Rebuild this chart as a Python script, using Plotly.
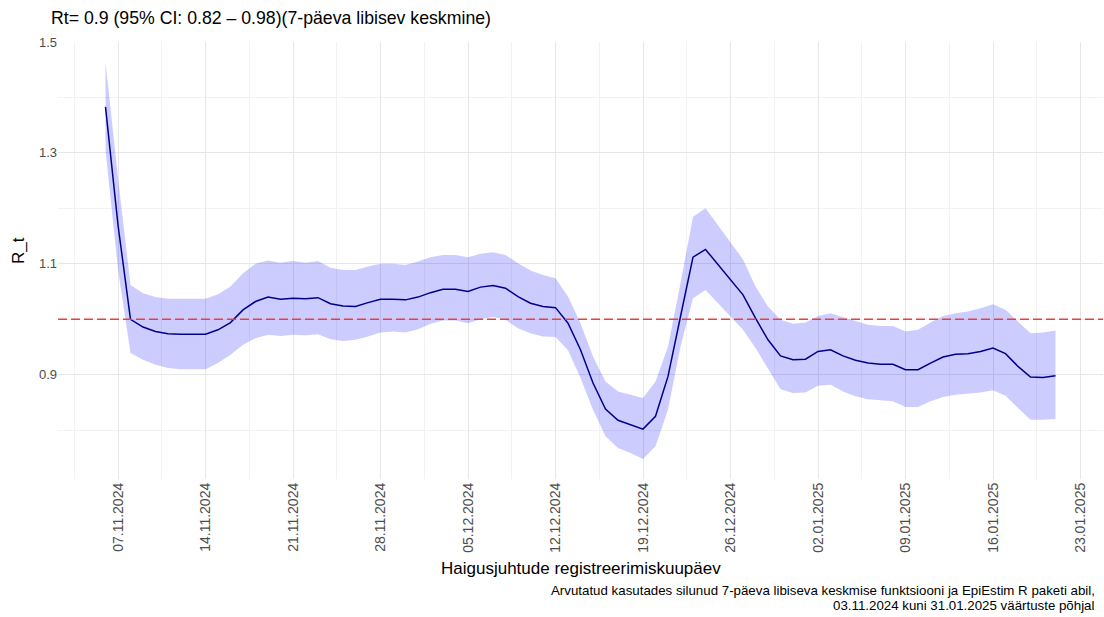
import pandas as pd
import plotly.graph_objects as go

START_DATE = "2024-11-06"
THRESHOLD = 1.0

rt_mean = [1.383, 1.170, 1.000, 0.986, 0.978, 0.974, 0.973, 0.973, 0.973, 0.981,
           0.994, 1.017, 1.032, 1.040, 1.036, 1.038, 1.037, 1.039, 1.028, 1.024,
           1.023, 1.030, 1.036, 1.036, 1.035, 1.040, 1.048, 1.054, 1.054, 1.050,
           1.058, 1.061, 1.056, 1.041, 1.029, 1.023, 1.021, 0.993, 0.945, 0.885,
           0.838, 0.818, 0.810, 0.802, 0.825, 0.897, 1.005, 1.112, 1.126, 1.099,
           1.072, 1.044, 1.002, 0.963, 0.934, 0.927, 0.928, 0.942, 0.945, 0.934,
           0.926, 0.921, 0.919, 0.919, 0.909, 0.909, 0.921, 0.932, 0.937, 0.938,
           0.942, 0.948, 0.938, 0.915, 0.896, 0.895, 0.898]

rt_upper = [1.464, 1.255, 1.062, 1.047, 1.040, 1.037, 1.037, 1.037, 1.037, 1.045,
            1.059, 1.083, 1.100, 1.106, 1.102, 1.105, 1.102, 1.105, 1.093, 1.089,
            1.089, 1.095, 1.100, 1.100, 1.098, 1.104, 1.112, 1.116, 1.116, 1.112,
            1.118, 1.121, 1.116, 1.101, 1.088, 1.080, 1.074, 1.041, 0.993, 0.933,
            0.888, 0.870, 0.864, 0.858, 0.888, 0.951, 1.065, 1.185, 1.200, 1.170,
            1.140, 1.108, 1.059, 1.023, 0.999, 0.992, 0.994, 1.006, 1.011, 1.004,
            0.996, 0.990, 0.988, 0.988, 0.978, 0.981, 0.994, 1.006, 1.011, 1.014,
            1.020, 1.027, 1.017, 0.996, 0.975, 0.976, 0.980]

rt_lower = [1.305, 1.090, 0.939, 0.927, 0.918, 0.912, 0.910, 0.910, 0.910, 0.921,
            0.936, 0.954, 0.966, 0.972, 0.970, 0.972, 0.971, 0.973, 0.964, 0.961,
            0.963, 0.969, 0.976, 0.978, 0.976, 0.982, 0.992, 0.998, 0.998, 0.993,
            1.000, 1.004, 0.999, 0.984, 0.975, 0.969, 0.968, 0.944, 0.894, 0.837,
            0.789, 0.768, 0.759, 0.748, 0.771, 0.837, 0.951, 1.038, 1.053, 1.029,
            1.005, 0.981, 0.948, 0.912, 0.874, 0.867, 0.868, 0.880, 0.882, 0.870,
            0.861, 0.856, 0.854, 0.852, 0.842, 0.842, 0.852, 0.860, 0.864, 0.866,
            0.868, 0.872, 0.862, 0.840, 0.819, 0.819, 0.820]

dates = pd.date_range(START_DATE, periods=len(rt_mean), freq="D")

TITLE = "Rt= 0.9 (95% CI: 0.82 – 0.98)(7-päeva libisev keskmine)"
X_TITLE = "Haigusjuhtude registreerimiskuupäev"
Y_TITLE = "R_t"
CAPTION_LINES = ["Arvutatud kasutades silunud 7-päeva libiseva keskmise funktsiooni ja EpiEstim R paketi abil,",
                 "03.11.2024 kuni 31.01.2025 väärtuste põhjal"]

FONT = "Liberation Sans, Arial, sans-serif"

fig = go.Figure()
fig.add_trace(go.Scatter(x=dates, y=rt_lower, mode="lines", line=dict(width=0),
                         hoverinfo="skip", showlegend=False))
fig.add_trace(go.Scatter(x=dates, y=rt_upper, mode="lines", line=dict(width=0),
                         fill="tonexty", fillcolor="rgba(0,0,255,0.2)",
                         hoverinfo="skip", showlegend=False))
fig.add_trace(go.Scatter(x=dates, y=rt_mean, mode="lines",
                         line=dict(color="#00008B", width=1.5), showlegend=False))

fig.add_shape(type="line", xref="paper", x0=0, x1=1, yref="y", y0=THRESHOLD, y1=THRESHOLD,
              line=dict(color="#E8403A", width=1.5, dash="9px,4px"), layer="above")

day_ms = 86400000
fig.update_xaxes(
    range=[pd.Timestamp("2024-11-02 04:48"), pd.Timestamp("2025-01-24 19:12")],
    tick0="2024-11-07", dtick=7 * day_ms, tickformat="%d.%m.%Y", tickangle=-90,
    showgrid=True, gridcolor="#E6E6E6", gridwidth=1, zeroline=False, showline=False,
    ticks="", tickfont=dict(family=FONT, size=14, color="#4D4D4D"),
    minor=dict(showgrid=True, gridcolor="#F2F2F2", gridwidth=1,
               tick0="2024-11-03 12:00", dtick=int(3.5 * day_ms)),
)
fig.update_yaxes(
    range=[0.712, 1.5], tick0=0.9, dtick=0.2, tickformat=".1f",
    showgrid=True, gridcolor="#E6E6E6", gridwidth=1, zeroline=False, showline=False,
    ticks="", tickfont=dict(family=FONT, size=13, color="#4D4D4D"),
    minor=dict(showgrid=True, gridcolor="#F2F2F2", gridwidth=1, dtick=0.1, tick0=0.8),
)

fig.update_layout(
    width=1104, height=617,
    margin=dict(l=58, r=1, t=42, b=138),
    paper_bgcolor="white", plot_bgcolor="white",
    font=dict(family=FONT, color="black"),
    title=dict(text=TITLE, x=51 / 1104, xanchor="left", xref="container",
               y=1 - 18 / 617, yanchor="middle", yref="container",
               font=dict(family=FONT, size=17.7, color="black")),
)

plot_h = 617 - 42 - 138


def paper_y(px):
    return (617 - 138 - px) / plot_h


fig.add_annotation(text=X_TITLE, xref="paper", yref="paper", x=0.5, y=paper_y(568),
                   xanchor="center", yanchor="middle", showarrow=False,
                   font=dict(family=FONT, size=17, color="black"))
fig.add_annotation(text=Y_TITLE, xref="paper", yref="paper", x=-0.0383, y=paper_y(250),
                   xanchor="center", yanchor="middle", textangle=-90, showarrow=False,
                   font=dict(family=FONT, size=17, color="black"))
for line_text, py in zip(CAPTION_LINES, [590, 605]):
    fig.add_annotation(text=line_text, xref="paper", yref="paper", x=1 - 6 / 1045, y=paper_y(py),
                       xanchor="right", yanchor="middle", align="right", showarrow=False,
                       font=dict(family=FONT, size=13.3, color="black"))

fig.write_html("out.html", config={"displayModeBar": False},
               post_script="document.body.style.margin='0';document.body.style.overflow='hidden';")
